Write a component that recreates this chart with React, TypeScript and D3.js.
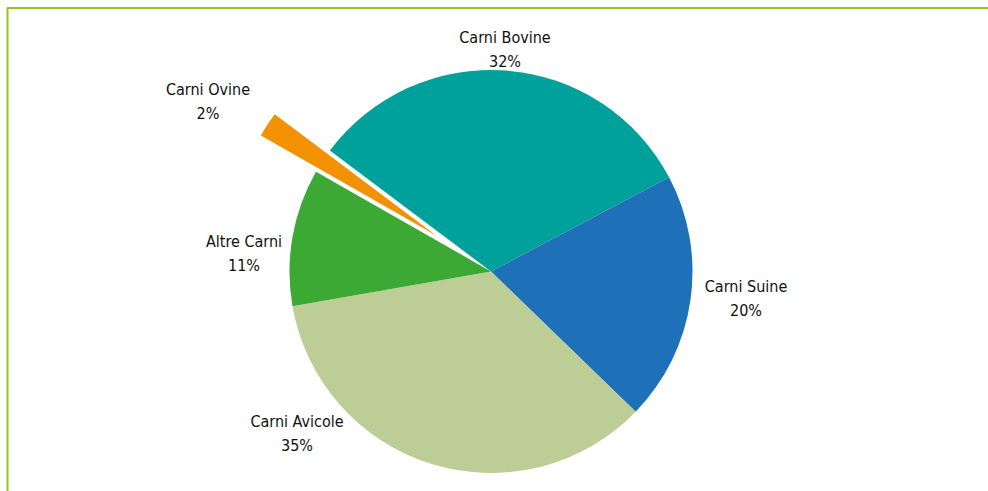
import { useEffect, useRef } from 'react';
import * as d3 from 'd3';

const categories = ['Carni Bovine', 'Carni Suine', 'Carni Avicole', 'Altre Carni', 'Carni Ovine'];
const shares = [32, 20, 35, 11, 2];
const labels = ['32%', '20%', '35%', '11%', '2%'];
const colors = ['#00a19a', '#1e71b8', '#bccd96', '#3ca935', '#f39200'];
const exploded = ['Carni Ovine'];

// label anchors relative to pie centre (Excel placed these by hand, roughly)
const labelOffsets: [number, number][] = [[14, -234], [255, 15], [-194, 150], [-247, -30], [-283, -182]];

export default function App() {
  const svgRef = useRef<SVGSVGElement>(null);

  useEffect(() => {
    if (!svgRef.current) return;
    const svg = d3.select(svgRef.current);
    svg.selectAll('*').remove();
    const W = 988, H = 491;
    const cx = 491, cy = 271.5, r = 201.5;

    // frame
    svg.append('line').attr('x1', 7).attr('x2', W).attr('y1', 8).attr('y2', 8).attr('stroke', '#95c61f').attr('stroke-width', 2);
    svg.append('line').attr('x1', 7.5).attr('x2', 7.5).attr('y1', 8).attr('y2', H).attr('stroke', '#95c61f').attr('stroke-width', 2);

    const pie = d3.pie<number>().sort(null).value(d => d)
      .startAngle(-53.1 * Math.PI / 180).endAngle(2 * Math.PI - 53.1 * Math.PI / 180);
    const arcs = pie(shares);
    const arc = d3.arc<d3.PieArcDatum<number>>().innerRadius(0).outerRadius(r);

    const g = svg.append('g').attr('transform', `translate(${cx},${cy})`);
    g.selectAll('path').data(arcs).enter().append('path')
      .attr('d', arc)
      .attr('fill', (_, i) => colors[i])
      .attr('transform', (d, i) => {
        if (!exploded.includes(categories[i])) return null;
        const mid = (d.startAngle + d.endAngle) / 2;
        const off = 66;
        return `translate(${Math.sin(mid) * off},${-Math.cos(mid) * off})`;
      });

    const font = '"DejaVu Sans Condensed", sans-serif';
    const lab = g.selectAll('g.lab').data(arcs).enter().append('g')
      .attr('transform', (_, i) => `translate(${labelOffsets[i][0]},${labelOffsets[i][1]})`);
    lab.append('text').attr('text-anchor', 'middle').attr('dominant-baseline', 'central')
      .attr('font-family', font).attr('font-size', 16).attr('fill', '#111')
      .text((_, i) => categories[i]);
    lab.append('text').attr('text-anchor', 'middle').attr('dominant-baseline', 'central').attr('y', 24)
      .attr('font-family', font).attr('font-size', 16).attr('fill', '#111')
      .text((_, i) => labels[i]);
  }, []);

  return (
    <svg ref={svgRef} width={988} height={491} viewBox="0 0 988 491"
      style={{ position: 'absolute', left: 0, top: 0, background: '#fff' }} />
  );
}
